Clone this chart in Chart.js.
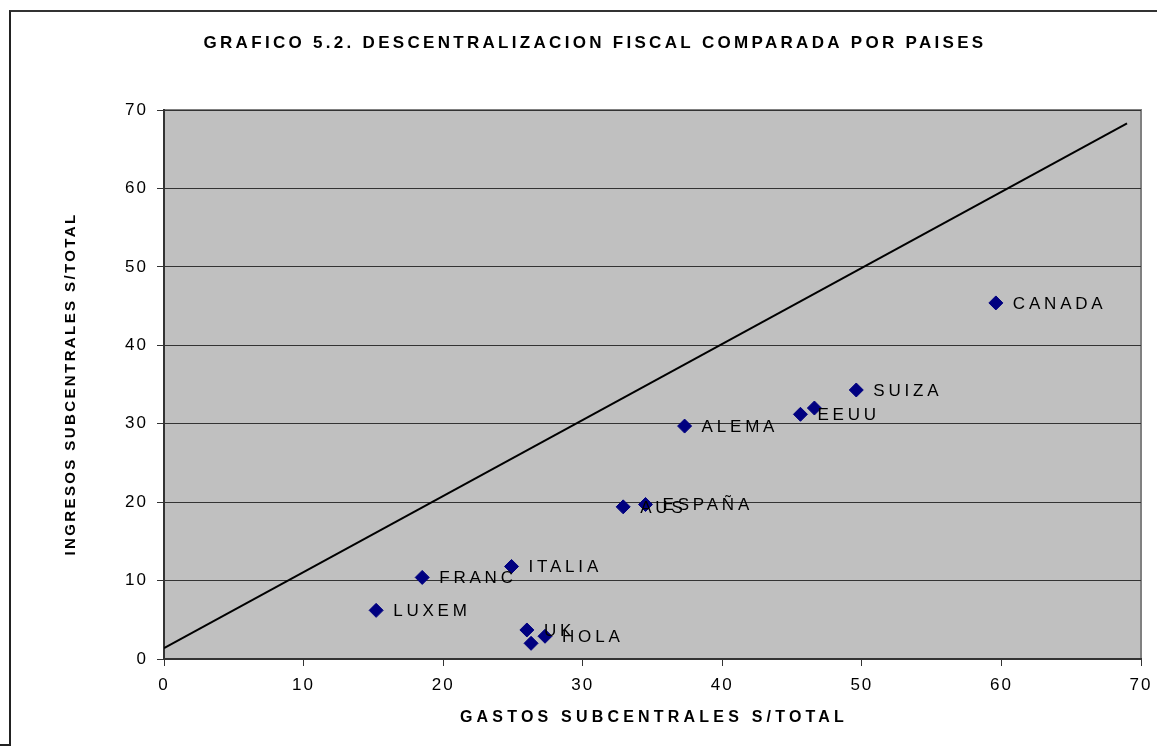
<!DOCTYPE html>
<html>
<head>
<meta charset="utf-8">
<script src="https://cdn.jsdelivr.net/npm/chart.js@4.4.1/dist/chart.umd.min.js"></script>
<style>
  body { margin: 0; background: #fff; }
  #wrap { position: relative; width: 1157px; height: 748px; overflow: hidden; }
  #marco { position: absolute; left: 9px; top: 10px; right: -10px; bottom: 2px;
           border-left: 2px solid #222; border-top: 2px solid #333; }
  #pie { position: absolute; left: 0; top: 744px; width: 10px; border-top: 2px solid #222; }
  canvas { position: absolute; left: 0; top: 0; }
</style>
</head>
<body>
<div id="wrap">
  <div id="marco"></div>
  <div id="pie"></div>
  <canvas id="grafico" width="1157" height="748"></canvas>
</div>
<script>
// Datos (gastos vs ingresos subcentrales, % del total)
const paises   = ['CANADA', 'SUIZA', 'EEUU', '', 'ALEMA', 'AUS', 'ESPAÑA', 'ITALIA', 'FRANC', 'LUXEM', 'UK', 'HOLA', ''];
const gastos   = [59.6, 49.6, 45.6, 46.6, 37.3, 32.9, 34.5, 24.9, 18.5, 15.2, 26.0, 27.3, 26.3];
const ingresos = [45.4, 34.3, 31.2, 32.0, 29.7, 19.4, 19.7, 11.8, 10.4, 6.2, 3.7, 2.9, 2.0];

// Recta de referencia
const lineaX = [0, 69];
const lineaY = [1.4, 68.3];

const ticksEje = [0, 10, 20, 30, 40, 50, 60, 70];

const titulo = 'GRAFICO 5.2. DESCENTRALIZACION FISCAL COMPARADA POR PAISES';
const tituloX = 'GASTOS SUBCENTRALES S/TOTAL';
const tituloY = 'INGRESOS SUBCENTRALES S/TOTAL';

const fuente = '"Liberation Sans", Arial, sans-serif';

// fondo gris y borde del area de trazado
const fondoPlot = {
  id: 'fondoPlot',
  beforeDraw(chart) {
    const { ctx, chartArea: a } = chart;
    ctx.save();
    ctx.fillStyle = '#C0C0C0';
    ctx.fillRect(a.left, a.top, a.right - a.left, a.bottom - a.top);
    ctx.strokeStyle = '#808080';
    ctx.lineWidth = 2;
    ctx.strokeRect(a.left, a.top, a.right - a.left, a.bottom - a.top);
    ctx.restore();
    ctx.letterSpacing = '2px'; // espaciado de los ticks
  },
  afterDraw(chart) {
    const { ctx } = chart;
    ctx.letterSpacing = '0px';
    ctx.save();
    ctx.fillStyle = '#000';
    ctx.textBaseline = 'middle';
    ctx.textAlign = 'center';
    ctx.font = 'bold 17px ' + fuente;
    ctx.letterSpacing = '3.3px';
    ctx.fillText(titulo, 595, 43);
    ctx.font = 'bold 16px ' + fuente;
    ctx.letterSpacing = '4.2px';
    ctx.fillText(tituloX, 654, 718);
    ctx.translate(71, 384);
    ctx.rotate(-Math.PI / 2);
    ctx.font = 'bold 15px ' + fuente;
    ctx.letterSpacing = '2.4px';
    ctx.fillText(tituloY, 0, 0);
    ctx.restore();
  }
};

// etiquetas de cada pais
const etiquetas = {
  id: 'etiquetas',
  afterDatasetsDraw(chart) {
    const { ctx } = chart;
    const meta = chart.getDatasetMeta(0);
    ctx.save();
    ctx.letterSpacing = '3.8px';
    ctx.font = '17px ' + fuente;
    ctx.fillStyle = '#000';
    ctx.textBaseline = 'middle';
    ctx.textAlign = 'left';
    meta.data.forEach((p, i) => {
      if (paises[i]) ctx.fillText(paises[i], p.x + 17, p.y + 1);
    });
    ctx.restore();
  }
};

const puntos = gastos.map((g, i) => ({ x: g, y: ingresos[i] }));
const recta = lineaX.map((x, i) => ({ x: x, y: lineaY[i] }));

new Chart(document.getElementById('grafico'), {
  type: 'scatter',
  data: {
    datasets: [
      {
        label: 'Paises',
        data: puntos,
        pointStyle: 'rectRot',
        pointRadius: 7,
        backgroundColor: '#000080',
        borderColor: '#000080',
        borderWidth: 1
      },
      {
        label: 'Recta',
        data: recta,
        showLine: true,
        pointRadius: 0,
        borderColor: '#000',
        borderWidth: 2
      }
    ]
  },
  plugins: [fondoPlot, etiquetas],
  options: {
    responsive: false,
    animation: false,
    layout: { padding: { left: 0, top: 110, right: 16, bottom: 0 } },
    plugins: { legend: { display: false }, tooltip: { enabled: false } },
    scales: {
      x: {
        type: 'linear',
        min: 0, max: 70,
        afterFit: s => { s.height = 89; s.paddingLeft = 0; s.paddingRight = 0; },
        afterBuildTicks: s => { s.ticks = ticksEje.map(v => ({ value: v })); },
        grid: { drawOnChartArea: false, drawTicks: true, tickLength: 7, color: '#333', lineWidth: 1 },
        border: { color: '#333', width: 2 },
        ticks: { color: '#000', font: { family: fuente, size: 17 }, padding: 9, maxRotation: 0 }
      },
      y: {
        type: 'linear',
        min: 0, max: 70,
        afterFit: s => { s.width = 164; s.paddingTop = 0; s.paddingBottom = 0; },
        afterBuildTicks: s => { s.ticks = ticksEje.map(v => ({ value: v })); },
        grid: { drawOnChartArea: true, drawTicks: true, tickLength: 7, color: '#333', lineWidth: 1 },
        border: { color: '#333', width: 2 },
        ticks: { color: '#000', font: { family: fuente, size: 17 }, padding: 9 }
      }
    }
  }
});
</script>
</body>
</html>
